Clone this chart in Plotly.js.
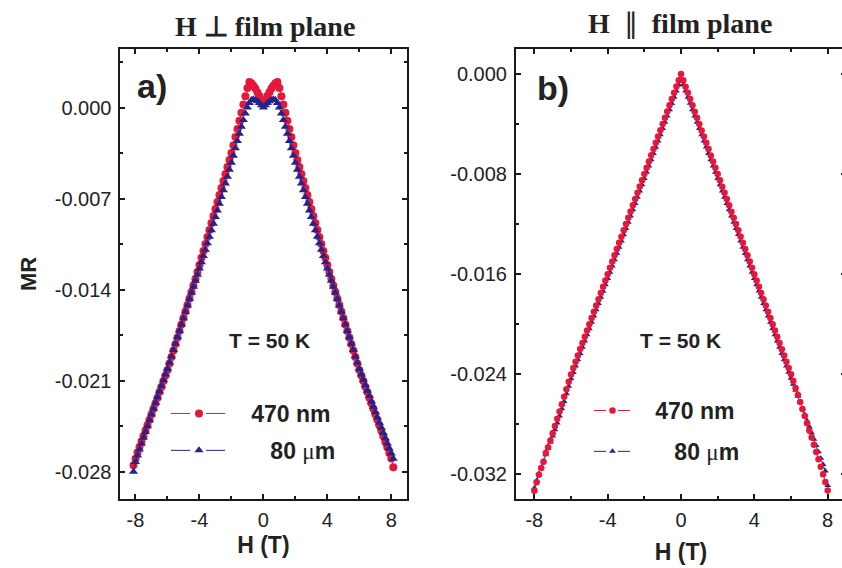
<!DOCTYPE html>
<html>
<head>
<meta charset="utf-8">
<script src="https://cdn.plot.ly/plotly-3.0.1.min.js"></script>
<style>
html,body{margin:0;padding:0;overflow:hidden;background:#fff;}
#chart{width:846px;height:568px;}
</style>
</head>
<body>
<div id="chart"></div>
<script>
// ---------- Panel a) H perpendicular to film plane ----------
var H_a = [-8.125,-8,-7.875,-7.75,-7.625,-7.5,-7.375,-7.25,-7.125,-7,-6.875,-6.75,-6.625,-6.5,-6.375,-6.25,-6.125,-6,-5.875,-5.75,-5.625,-5.5,-5.375,-5.25,-5.125,-5,-4.875,-4.75,-4.625,-4.5,-4.375,-4.25,-4.125,-4,-3.875,-3.75,-3.625,-3.5,-3.375,-3.25,-3.125,-3,-2.875,-2.75,-2.625,-2.5,-2.375,-2.25,-2.125,-2,-1.875,-1.75,-1.625,-1.5,-1.375,-1.25,-1.125,-1,-0.875,-0.75,-0.625,-0.5,-0.375,-0.25,-0.125,0,0.125,0.25,0.375,0.5,0.625,0.75,0.875,1,1.125,1.25,1.375,1.5,1.625,1.75,1.875,2,2.125,2.25,2.375,2.5,2.625,2.75,2.875,3,3.125,3.25,3.375,3.5,3.625,3.75,3.875,4,4.125,4.25,4.375,4.5,4.625,4.75,4.875,5,5.125,5.25,5.375,5.5,5.625,5.75,5.875,6,6.125,6.25,6.375,6.5,6.625,6.75,6.875,7,7.125,7.25,7.375,7.5,7.625,7.75,7.875,8,8.125];

var MR_a_470nm = [-0.02750,-0.02700,-0.02652,-0.02610,-0.02568,-0.02526,-0.02484,-0.02442,-0.02400,-0.02358,-0.02316,-0.02273,-0.02231,-0.02188,-0.02146,-0.02103,-0.02061,-0.02018,-0.01968,-0.01918,-0.01868,-0.01818,-0.01768,-0.01718,-0.01668,-0.01618,-0.01568,-0.01518,-0.01468,-0.01418,-0.01368,-0.01318,-0.01264,-0.01210,-0.01156,-0.01103,-0.01049,-0.00995,-0.00941,-0.00888,-0.00834,-0.00780,-0.00726,-0.00673,-0.00619,-0.00565,-0.00511,-0.00458,-0.00404,-0.00350,-0.00290,-0.00227,-0.00165,-0.00102,-0.00040,0.00023,0.00086,0.00150,0.00197,0.00186,0.00168,0.00146,0.00118,0.00088,0.00055,
0.00020,
0.00055,0.00088,0.00118,0.00146,0.00168,0.00186,0.00197,0.00150,0.00086,0.00023,-0.00040,-0.00102,-0.00165,-0.00227,-0.00290,-0.00350,-0.00404,-0.00458,-0.00511,-0.00565,-0.00619,-0.00673,-0.00726,-0.00780,-0.00834,-0.00888,-0.00941,-0.00995,-0.01049,-0.01103,-0.01156,-0.01210,-0.01264,-0.01318,-0.01368,-0.01418,-0.01468,-0.01518,-0.01568,-0.01618,-0.01668,-0.01718,-0.01768,-0.01818,-0.01868,-0.01918,-0.01968,-0.02018,-0.02061,-0.02103,-0.02146,-0.02188,-0.02231,-0.02273,-0.02316,-0.02358,-0.02401,-0.02443,-0.02486,-0.02528,-0.02571,-0.02613,-0.02656,-0.02698,-0.02765];

var MR_a_80um = [-0.02800,-0.02725,-0.02675,-0.02630,-0.02585,-0.02540,-0.02495,-0.02450,-0.02405,-0.02360,-0.02316,-0.02272,-0.02228,-0.02184,-0.02140,-0.02096,-0.02053,-0.02010,-0.01962,-0.01914,-0.01865,-0.01816,-0.01767,-0.01718,-0.01669,-0.01620,-0.01571,-0.01522,-0.01473,-0.01424,-0.01378,-0.01332,-0.01285,-0.01238,-0.01190,-0.01142,-0.01093,-0.01043,-0.00993,-0.00943,-0.00893,-0.00842,-0.00791,-0.00740,-0.00688,-0.00636,-0.00584,-0.00532,-0.00479,-0.00425,-0.00370,-0.00314,-0.00258,-0.00202,-0.00148,-0.00095,-0.00045,0.00000,0.00035,0.00058,0.00063,0.00058,0.00049,0.00035,0.00018,
0.00000,
0.00018,0.00035,0.00049,0.00058,0.00063,0.00058,0.00035,0.00000,-0.00045,-0.00095,-0.00148,-0.00202,-0.00258,-0.00314,-0.00370,-0.00425,-0.00479,-0.00532,-0.00584,-0.00636,-0.00688,-0.00740,-0.00791,-0.00842,-0.00893,-0.00943,-0.00993,-0.01043,-0.01093,-0.01142,-0.01190,-0.01238,-0.01285,-0.01332,-0.01378,-0.01424,-0.01473,-0.01522,-0.01571,-0.01620,-0.01669,-0.01718,-0.01767,-0.01816,-0.01865,-0.01914,-0.01962,-0.02010,-0.02052,-0.02094,-0.02136,-0.02178,-0.02219,-0.02260,-0.02301,-0.02342,-0.02383,-0.02423,-0.02463,-0.02503,-0.02543,-0.02583,-0.02622,-0.02661,-0.02700];

// ---------- Panel b) H parallel to film plane ----------
var H_b = [-8,-7.875,-7.75,-7.625,-7.5,-7.375,-7.25,-7.125,-7,-6.875,-6.75,-6.625,-6.5,-6.375,-6.25,-6.125,-6,-5.875,-5.75,-5.625,-5.5,-5.375,-5.25,-5.125,-5,-4.875,-4.75,-4.625,-4.5,-4.375,-4.25,-4.125,-4,-3.875,-3.75,-3.625,-3.5,-3.375,-3.25,-3.125,-3,-2.875,-2.75,-2.625,-2.5,-2.375,-2.25,-2.125,-2,-1.875,-1.75,-1.625,-1.5,-1.375,-1.25,-1.125,-1,-0.875,-0.75,-0.625,-0.5,-0.375,-0.25,-0.125,0,0.125,0.25,0.375,0.5,0.625,0.75,0.875,1,1.125,1.25,1.375,1.5,1.625,1.75,1.875,2,2.125,2.25,2.375,2.5,2.625,2.75,2.875,3,3.125,3.25,3.375,3.5,3.625,3.75,3.875,4,4.125,4.25,4.375,4.5,4.625,4.75,4.875,5,5.125,5.25,5.375,5.5,5.625,5.75,5.875,6,6.125,6.25,6.375,6.5,6.625,6.75,6.875,7,7.125,7.25,7.375,7.5,7.625,7.75,7.875,8];

var MR_b_470nm = [-0.03332,-0.03265,-0.03205,-0.03150,-0.03100,-0.03030,-0.02985,-0.02930,-0.02872,-0.02814,-0.02756,-0.02698,-0.02640,-0.02580,-0.02520,-0.02460,-0.02402,-0.02351,-0.02300,-0.02250,-0.02199,-0.02150,-0.02100,-0.02050,-0.02001,-0.01950,-0.01900,-0.01850,-0.01800,-0.01750,-0.01701,-0.01650,-0.01600,-0.01550,-0.01500,-0.01450,-0.01400,-0.01350,-0.01301,-0.01250,-0.01200,-0.01150,-0.01100,-0.01050,-0.01000,-0.00950,-0.00900,-0.00850,-0.00800,-0.00750,-0.00700,-0.00650,-0.00600,-0.00550,-0.00500,-0.00450,-0.00400,-0.00350,-0.00300,-0.00250,-0.00200,-0.00150,-0.00100,-0.00050,
0.00000,
-0.00050,-0.00101,-0.00150,-0.00199,-0.00250,-0.00301,-0.00350,-0.00400,-0.00451,-0.00500,-0.00549,-0.00600,-0.00651,-0.00700,-0.00750,-0.00800,-0.00850,-0.00901,-0.00950,-0.01000,-0.01050,-0.01101,-0.01150,-0.01200,-0.01249,-0.01300,-0.01350,-0.01400,-0.01450,-0.01500,-0.01550,-0.01600,-0.01650,-0.01700,-0.01750,-0.01800,-0.01850,-0.01900,-0.01950,-0.02000,-0.02050,-0.02100,-0.02150,-0.02200,-0.02250,-0.02300,-0.02350,-0.02400,-0.02455,-0.02510,-0.02566,-0.02622,-0.02678,-0.02735,-0.02792,-0.02850,-0.02907,-0.02965,-0.03023,-0.03081,-0.03140,-0.03200,-0.03262,-0.03330];

var MR_b_80um = [-0.03310,-0.03250,-0.03195,-0.03145,-0.03095,-0.03045,-0.02995,-0.02945,-0.02895,-0.02845,-0.02790,-0.02735,-0.02677,-0.02618,-0.02557,-0.02496,-0.02437,-0.02386,-0.02335,-0.02285,-0.02234,-0.02185,-0.02135,-0.02085,-0.02036,-0.01985,-0.01935,-0.01885,-0.01835,-0.01785,-0.01736,-0.01685,-0.01635,-0.01585,-0.01535,-0.01485,-0.01435,-0.01385,-0.01336,-0.01285,-0.01235,-0.01185,-0.01135,-0.01085,-0.01035,-0.00985,-0.00935,-0.00885,-0.00835,-0.00785,-0.00735,-0.00685,-0.00635,-0.00585,-0.00535,-0.00485,-0.00435,-0.00385,-0.00335,-0.00285,-0.00235,-0.00185,-0.00135,-0.00085,
-0.00045,
-0.00085,-0.00136,-0.00185,-0.00234,-0.00285,-0.00336,-0.00385,-0.00435,-0.00486,-0.00535,-0.00584,-0.00635,-0.00686,-0.00735,-0.00785,-0.00835,-0.00885,-0.00936,-0.00985,-0.01035,-0.01085,-0.01136,-0.01185,-0.01235,-0.01284,-0.01335,-0.01385,-0.01435,-0.01485,-0.01535,-0.01585,-0.01635,-0.01685,-0.01735,-0.01785,-0.01835,-0.01885,-0.01935,-0.01985,-0.02035,-0.02085,-0.02135,-0.02185,-0.02235,-0.02285,-0.02335,-0.02385,-0.02432,-0.02480,-0.02528,-0.02576,-0.02625,-0.02674,-0.02723,-0.02772,-0.02821,-0.02871,-0.02921,-0.02971,-0.03021,-0.03072,-0.03123,-0.03175,-0.03290];

// ---------- tick values / labels ----------
var xTickVals = [-8,-4,0,4,8];
var xTickText = ['-8','-4','0','4','8'];
var xMinorVals = [-6,-2,2,6];
var yTickVals_a = [0,-0.007,-0.014,-0.021,-0.028];
var yTickText_a = ['0.000','-0.007','-0.014','-0.021','-0.028'];
var yMinorVals_a = [0.0035,-0.0035,-0.0105,-0.0175,-0.0245];
var yTickVals_b = [0,-0.008,-0.016,-0.024,-0.032];
var yTickText_b = ['0.000','-0.008','-0.016','-0.024','-0.032'];
var yMinorVals_b = [-0.004,-0.012,-0.020,-0.028];

var NB = '\u00a0\u00a0\u00a0';
var seriesNames = [NB + '470 nm', NB + NB + '80 <span style="font-family:\'Liberation Serif\';font-weight:normal">\u03bc</span>m'];

var RED = '#e5173a';
var BLUE = '#23238c';
var W = 846, PT = 49, PH = 450;
function px(x){ return x / W; }
function py(y){ return 1 - (y - PT) / PH; }

var sans = 'Liberation Sans, Arial, sans-serif';
var serif = 'Liberation Serif, Times New Roman, serif';

var traces = [
  {x: H_a, y: MR_a_470nm, xaxis: 'x', yaxis: 'y', type: 'scatter', mode: 'lines+markers',
   name: seriesNames[0], legend: 'legend', legendgroup: 'a1', legendrank: 1,
   line: {color: RED, width: 1, dash: '19px,16px'},
   marker: {symbol: 'circle', size: 8, color: RED}},
  {x: H_a, y: MR_a_80um, xaxis: 'x', yaxis: 'y', type: 'scatter', mode: 'lines+markers',
   name: seriesNames[1], legend: 'legend', legendgroup: 'a2', legendrank: 2,
   line: {color: BLUE, width: 1, dash: '19px,16px'},
   marker: {symbol: 'triangle-up', size: 8, color: BLUE}},
  {x: H_b, y: MR_b_80um, xaxis: 'x2', yaxis: 'y2', type: 'scatter', mode: 'lines+markers',
   name: seriesNames[1], legend: 'legend2', legendgroup: 'b2', legendrank: 2,
   line: {color: BLUE, width: 1, dash: '12px,12px'},
   marker: {symbol: 'triangle-up', size: 6, color: BLUE}},
  {x: H_b, y: MR_b_470nm, xaxis: 'x2', yaxis: 'y2', type: 'scatter', mode: 'lines+markers',
   name: seriesNames[0], legend: 'legend2', legendgroup: 'b1', legendrank: 1,
   line: {color: RED, width: 1, dash: '12px,12px'},
   marker: {symbol: 'circle', size: 6.5, color: RED}}
];

var axisCommon = {
  showgrid: false, zeroline: false, showline: true, linecolor: '#1a1a1a', linewidth: 2,
  mirror: 'ticks', ticks: 'inside', ticklen: 5, tickwidth: 2, tickcolor: '#1a1a1a',
  tickfont: {family: sans, size: 20, color: '#222'}, tickmode: 'array'
};
function ax(extra){ return Object.assign({}, axisCommon, extra); }
var minorStyle = {tickmode: 'array', ticks: 'inside', ticklen: 3, tickwidth: 2, tickcolor: '#1a1a1a'};

var layout = {
  width: W, height: 568,
  margin: {l: 0, r: 0, t: PT, b: 568 - PT - PH},
  paper_bgcolor: '#fff', plot_bgcolor: '#fff',
  showlegend: true,
  xaxis: ax({domain: [px(119.5), px(407.3)], range: [-9, 9], anchor: 'y',
    tickvals: xTickVals, ticktext: xTickText, ticklabelstandoff: 2,
    minor: Object.assign({tickvals: xMinorVals}, minorStyle),
    title: {text: 'H (T)', font: {family: sans, size: 23, weight: 'bold', color: '#222'}, standoff: 7}}),
  yaxis: ax({domain: [0, 1], range: [-0.0301, 0.0045], anchor: 'x',
    tickvals: yTickVals_a, ticktext: yTickText_a, ticklabelstandoff: 2,
    minor: Object.assign({tickvals: yMinorVals_a}, minorStyle),
    title: {text: 'MR', font: {family: sans, size: 22, weight: 'bold', color: '#222'}, standoff: 12}}),
  xaxis2: ax({domain: [px(516), 1], range: [-9, 9], anchor: 'y2',
    tickvals: xTickVals, ticktext: xTickText, ticklabelstandoff: 2,
    minor: Object.assign({tickvals: xMinorVals}, minorStyle),
    title: {text: 'H (T)', font: {family: sans, size: 23, weight: 'bold', color: '#222'}, standoff: 14}}),
  yaxis2: ax({domain: [0, 1], range: [-0.03398, 0.002], anchor: 'x2',
    tickvals: yTickVals_b, ticktext: yTickText_b, ticklabelstandoff: 3,
    minor: Object.assign({tickvals: yMinorVals_b}, minorStyle)}),
  legend: {x: px(166), xanchor: 'left', y: py(392), yanchor: 'top',
    bgcolor: 'rgba(0,0,0,0)', borderwidth: 0, traceorder: 'grouped', tracegroupgap: 4,
    itemwidth: 56, font: {family: sans, size: 23, weight: 'bold', color: '#222'}},
  legend2: {x: px(589), xanchor: 'left', y: py(389), yanchor: 'top',
    bgcolor: 'rgba(0,0,0,0)', borderwidth: 0, traceorder: 'grouped', tracegroupgap: 8,
    itemwidth: 37, font: {family: sans, size: 23, weight: 'bold', color: '#222'}},
  annotations: [
    {xref: 'paper', yref: 'paper', x: px(265), y: py(26), xanchor: 'center', yanchor: 'middle', showarrow: false,
     text: 'H \u22a5 film plane', font: {family: serif, size: 28, weight: 'bold', color: '#222'}},
    {xref: 'paper', yref: 'paper', x: px(680), y: py(24), xanchor: 'center', yanchor: 'middle', showarrow: false,
     text: 'H\u00a0 <span style="font-weight:normal">\u2225</span>\u00a0 film plane', font: {family: serif, size: 28, weight: 'bold', color: '#222'}},
    {xref: 'paper', yref: 'paper', x: px(135), y: py(86), xanchor: 'left', yanchor: 'middle', showarrow: false,
     text: 'a)', font: {family: sans, size: 34, weight: 'bold', color: '#222'}},
    {xref: 'paper', yref: 'paper', x: px(535), y: py(88), xanchor: 'left', yanchor: 'middle', showarrow: false,
     text: 'b)', font: {family: sans, size: 34, weight: 'bold', color: '#222'}},
    {xref: 'paper', yref: 'paper', x: px(269), y: py(340), xanchor: 'center', yanchor: 'middle', showarrow: false,
     text: 'T = 50 K', font: {family: sans, size: 21, weight: 'bold', color: '#222'}},
    {xref: 'paper', yref: 'paper', x: px(680), y: py(340), xanchor: 'center', yanchor: 'middle', showarrow: false,
     text: 'T = 50 K', font: {family: sans, size: 21, weight: 'bold', color: '#222'}}
  ]
};

Plotly.newPlot('chart', traces, layout, {displayModeBar: false, staticPlot: true});
</script>
</body>
</html>
